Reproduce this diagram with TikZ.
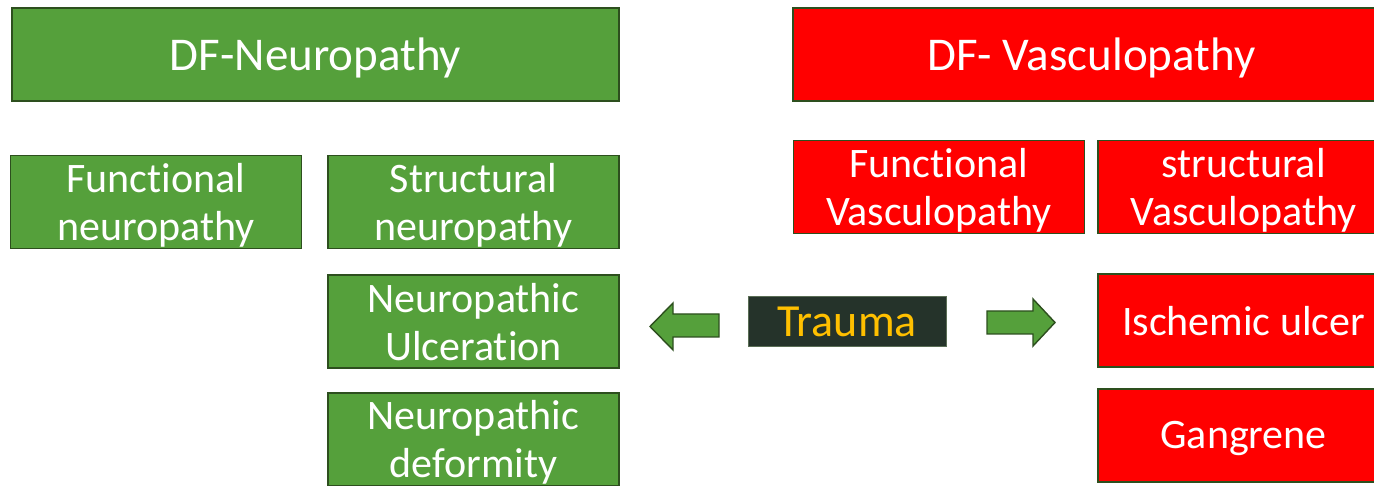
\documentclass[tikz,border=0pt]{standalone}
\usepackage{fontspec}
\setmainfont{Carlito}[Ligatures=NoCommon]
\usepackage{xcolor}
\usepackage{tikz}
\usetikzlibrary{positioning}

\definecolor{dfgreen}{HTML}{55A03B}
\definecolor{dfred}{HTML}{FF0000}
\definecolor{dfborder}{HTML}{2D4F1E}
\definecolor{traumafill}{HTML}{25332A}
\definecolor{traumaline}{HTML}{5A6E55}
\definecolor{traumatext}{HTML}{FFC000}

\begin{document}
\begin{tikzpicture}[x=1pt, y=-1pt, node distance=25pt,
    headbox/.style={rectangle, draw=dfborder, line width=1.6pt, text=white, inner sep=0pt,
      minimum height=93pt, text depth=0pt, font=\fontsize{47}{56}\selectfont},
    subbox/.style={rectangle, draw=dfborder, line width=1.6pt, text=white, inner sep=0pt,
      minimum width=291pt, minimum height=93pt, align=center, text depth=0pt,
      font=\fontsize{42}{48}\selectfont},
    blockarrow/.style={draw=dfborder, line width=1.4pt, fill=dfgreen, line join=miter}]
    \useasboundingbox (0,0) rectangle (1374,486);
    \clip (0,0) rectangle (1374,486);

    % ノード定義
    \node [headbox, fill=dfgreen, minimum width=607pt] (neuro) at (315.5,54.5) {DF-Neuropathy};
    \node [headbox, fill=dfred, minimum width=597pt] (vasc) at (1091.5,54.5) {DF- Vasculopathy};

    \node [subbox, fill=dfgreen] (structN) at (473.5,202) {Structural\\neuropathy};
    \node [subbox, fill=dfgreen, left=25pt of structN] (funcN) {Functional\\neuropathy};
    \node [subbox, fill=dfgreen, below=25pt of structN] (ulcerN) {Neuropathic\\Ulceration};
    \node [subbox, fill=dfgreen, below=23pt of ulcerN] (deformN) {Neuropathic\\deformity};

    \node [subbox, fill=dfred] (funcV) at (939,187) {Functional\\Vasculopathy};
    \node [subbox, fill=dfred, right=12pt of funcV] (structV) {structural\\Vasculopathy};
    \node [subbox, fill=dfred, below=39pt of structV] (ischemic) {Ischemic ulcer};
    \node [subbox, fill=dfred, below=20pt of ischemic] (gangrene) {Gangrene};

    \node [rectangle, draw=traumaline, line width=1pt, fill=traumafill, text=traumatext,
      minimum width=198pt, minimum height=50pt, inner sep=0pt, text depth=0pt,
      font=\fontsize{46}{55}\selectfont] (trauma) at (847,322) {Trauma};

    % 矢印
    \draw [blockarrow] (719,314) -- (673,314) -- (673,303) -- (650,326.5)
      -- (673,350) -- (673,337) -- (719,337) -- cycle;
    \draw [blockarrow] (987,311) -- (1033,311) -- (1033,299) -- (1055,322.5)
      -- (1033,346) -- (1033,334) -- (987,334) -- cycle;
\end{tikzpicture}
\end{document}
